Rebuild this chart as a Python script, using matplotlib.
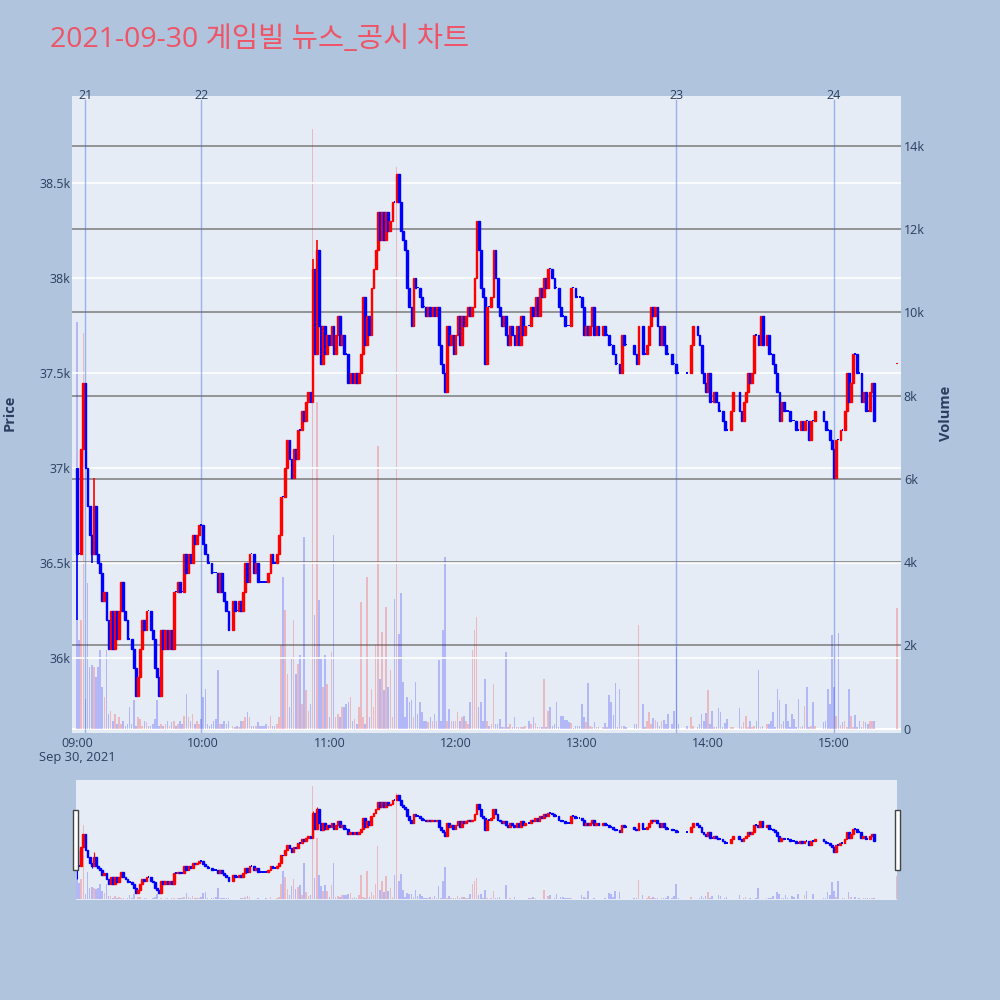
import matplotlib
matplotlib.use('Agg')
import matplotlib.pyplot as plt
from matplotlib.patches import Rectangle

plt.rcParams['font.family'] = ['Open Sans', 'Noto Sans CJK KR', 'DejaVu Sans']

N = None
title = '2021-09-30 게임빌 뉴스_공시 차트'
first_open = 37000

# 1-minute closes, minute 0 = 09:00 (None = no trade)
closes = [
    36550, 36550, 37100, 37450, 37000, 36800, 36650, 36550, 36800, 36550,
    36500, 36450, 36300, 36350, 36200, 36050, 36250, 36050, 36250, 36100,
    36250, 36400, 36250, 36200, 36100, 36100, 36050, 35950, 35800, 35900,
    36050, 36200, 36150, 36250, 36250, 36150, 36100, 35950, 35900, 35800,
    36150, 36050, 36150, 36050, 36150, 36050, 36350, 36350, 36400, 36350,
    36350, 36550, 36450, 36550, 36500, 36650, 36600, 36650, 36700, 36700,
    36600, 36550, 36500, 36500, 36450, 36450, 36450, 36350, 36450, 36350,
    36300, 36250, 36150, N, 36300, 36250, 36250, 36300, 36250, 36350,
    36500, 36400, 36550, 36550, 36450, 36500, 36400, 36400, 36400, 36400,
    36400, 36450, 36550, 36500, 36500, 36550, 36650, 36850, 36850, 37000,
    37150, 37050, 36950, 37100, 37050, 37200, 37200, 37300, 37250, 37350,
    37400, 37350, 38050, 37600, 38150, 37750, 37550, 37750, 37600, 37700,
    37650, 37750, 37600, 37700, 37800, 37650, 37700, 37600, 37600, 37450,
    37500, 37450, 37500, 37450, 37500, 37600, 37900, 37650, 37800, 37700,
    37950, 38050, 38150, 38350, 38200, 38350, 38200, 38350, 38250, 38300,
    38400, 38400, 38550, 38400, 38250, 38200, 38150, 37950, 37850, 37750,
    38000, 37950, 37950, 37900, 37850, 37850, 37800, 37850, 37800, 37850,
    37800, 37850, 37650, 37550, 37500, 37400, 37750, 37650, 37700, 37600,
    37700, 37800, 37650, 37800, 37750, 37800, 37850, 37800, 37850, 38000,
    38300, 38150, 37950, 37900, 37550, 37850, 37850, 37900, 38150, 38000,
    37850, 37800, 37750, 37800, 37700, 37650, 37750, 37700, 37650, 37750,
    37650, 37800, 37700, 37750, N, 37750, 37850, 37800, 37900, 37800,
    37950, 37900, 38000, 37950, 38050, 38050, 38000, 37950, 37950, 37850,
    37800, 37800, 37750, 37750, 37750, 37950, 37950, 37900, 37900, 37900,
    37850, 37700, 37750, 37700, 37750, 37850, 37700, 37750, 37700, N,
    37750, 37700, 37700, 37650, 37650, 37600, 37550, 37550, 37500, 37700,
    37650, 37650, N, N, N, 37600, 37550, 37750, N, 37600,
    37600, 37650, 37750, 37850, 37800, 37850, 37750, 37650, 37750, 37650,
    37600, 37600, N, 37550, 37550, 37500, 37500, N, N, N,
    37500, N, 37650, 37750, N, 37700, 37650, 37500, 37450, 37400,
    37500, 37350, 37350, 37400, 37350, 37300, 37300, 37250, 37200, 37200,
    N, 37300, 37400, N, N, 37300, 37250, 37350, 37400, 37500,
    37450, 37500, 37700, 37700, 37650, 37800, 37650, N, 37700, 37600,
    37600, 37550, 37500, 37400, 37250, 37350, 37300, 37300, 37300, 37250,
    37250, 37250, 37200, 37200, 37250, 37200, 37250, 37250, 37150, 37250,
    37250, 37300, N, N, N, 37250, 37200, 37200, 37150, 37100,
    36950, 37150, 37150, 37200, 37200, 37300, 37500, 37350, 37450, 37600,
    37600, 37500, 37500, 37350, 37400, 37300, 37300, 37400, 37450, 37250,
]

volumes = [
    9760, 2120, 2600, 9500, 700, 3490, 1480, 1520, 1480, 1240,
    1480, 1880, 1000, 760, 1880, 350, 430, 190, 350, 110,
    270, 110, 190, 70, 110, 510, 110, 680, 70, 270,
    230, 70, 190, 150, 70, 70, 110, 230, 680, 70,
    110, 70, 110, 190, 70, 150, 190, 70, 110, 190,
    110, 310, 840, 270, 190, 350, 110, 190, 110, 230,
    760, 960, 110, 70, 110, 190, 230, 1400, 110, 110,
    190, 110, 190, N, 70, 30, 70, 30, 190, 190,
    270, 390, 270, 70, 70, 70, 150, 70, 70, 70,
    110, 70, 310, 70, 70, 110, 270, 2000, 3650, 2840,
    1320, 510, 1680, 2600, 1320, 1560, 1760, 600, 4610, 920,
    430, 600, 14400, 2720, 7850, 3080, 1680, 1000, 1760, 1080,
    270, 1840, 4650, 270, 350, 270, 510, 510, 600, 640,
    760, 190, 230, 110, 510, 3040, 270, 110, 3650, 270,
    960, 510, 2000, 6800, 1200, 2320, 920, 2920, 1000, 1400,
    270, 3120, 13500, 2280, 3250, 1120, 270, 760, 640, 680,
    270, 1120, 350, 640, 390, 190, 190, 150, 270, 190,
    350, 190, 1640, 190, 2360, 4130, 190, 470, 190, 190,
    190, 390, 190, 270, 310, 190, 110, 640, 1880, 2360,
    2680, 510, 640, 190, 1200, 190, 70, 110, 1080, 100,
    100, 220, 30, 30, 1850, 30, 100, 30, 270, 30,
    30, 30, 30, 50, N, 180, 100, 270, 130, 30,
    30, 30, 1200, 30, 430, 510, 50, 110, 640, 30,
    310, 310, 210, 210, 150, 130, 20, 70, 70, 70,
    600, 270, 150, 1100, 70, 30, 150, 30, 30, N,
    30, 130, 30, 800, 640, 330, 1100, 30, 960, 50,
    50, 30, N, N, N, 100, 100, 2500, N, 600,
    30, 190, 400, 100, 250, 210, 150, 50, 190, 200,
    100, 350, N, 100, 430, 1950, 110, N, N, N,
    70, N, 270, 50, N, 30, 100, 350, 170, 370,
    920, 100, 430, 30, 30, 500, 390, 30, 130, 230,
    N, 30, 30, N, N, 500, 40, 150, 290, 30,
    170, 30, 70, 170, 1400, 30, 50, N, 110, 110,
    190, 390, 30, 960, 680, 100, 190, 600, 190, 30,
    350, 230, 30, 720, 30, 50, 550, 1000, 30, 70,
    640, 70, N, N, N, 150, 170, 960, 600, 2250,
    1000, 290, 2300, 90, 150, 170, 30, 960, 310, 30,
    330, 30, 190, 30, 170, 150, 100, 190, 190, 170,
]

# closing single-price auction (15:30)
auction_minute = 390
auction_price = 37550
auction_volume = 2900

wick_high = {8: 36950, 112: 38100, 114: 38200}
wick_low = {0: 36200, 7: 36500, 348: 37150}

news_minutes = [4, 59, 285, 360]
news_labels = ['21', '22', '23', '24']

hour_ticks = [0, 60, 120, 180, 240, 300, 360]
hour_labels = ['09:00', '10:00', '11:00', '12:00', '13:00', '14:00', '15:00']
date_label = 'Sep 30, 2021'
price_ticks = [36000, 36500, 37000, 37500, 38000, 38500]
price_labels = ['36k', '36.5k', '37k', '37.5k', '38k', '38.5k']
vol_ticks = [0, 2000, 4000, 6000, 8000, 10000, 12000, 14000]
vol_labels = ['0', '2k', '4k', '6k', '8k', '10k', '12k', '14k']

# ---- build OHLC ----
mins, o_, c_, h_, l_, v_ = [], [], [], [], [], []
prev = first_open
for m, (c, v) in enumerate(zip(closes, volumes)):
    if c is None:
        continue
    o = prev
    mins.append(m); o_.append(o); c_.append(c)
    h_.append(max(o, c, wick_high.get(m, 0)))
    l_.append(min(o, c, wick_low.get(m, 10 ** 9)))
    v_.append(v if v is not None else 0)
    prev = c
mins.append(auction_minute); o_.append(auction_price); c_.append(auction_price)
h_.append(auction_price); l_.append(auction_price); v_.append(auction_volume)

RED, BLUE = '#ff0000', '#0000ff'
cols = [RED if c > o else BLUE for o, c in zip(o_, c_)]
vcols = [(1, 0, 0, 0.22) if c > o else (0, 0, 1, 0.22) for o, c in zip(o_, c_)]
cols[-1] = RED
vcols[-1] = (1, 0, 0, 0.22)

BG = '#b0c4de'
PLOT = '#e5ecf6'
TXT = '#2a3f5f'

PMIN, PMAX = 35607, 38958
VMIN, VMAX = -100, 15200


def draw(axp, axv, body_w, lw, doji_h, vol_w, wick_lw):
    axv.bar(mins, v_, width=vol_w, color=vcols, linewidth=0, zorder=2)
    moving = [i for i in range(len(mins)) if c_[i] != o_[i]]
    flat = [i for i in range(len(mins)) if c_[i] == o_[i]]
    axp.bar([mins[i] for i in moving], [abs(c_[i] - o_[i]) for i in moving],
            bottom=[min(o_[i], c_[i]) for i in moving], width=body_w,
            color=[cols[i] for i in moving], edgecolor=[cols[i] for i in moving],
            linewidth=lw, zorder=3)
    axp.bar([mins[i] for i in flat], [doji_h] * len(flat),
            bottom=[c_[i] - doji_h / 2 for i in flat], width=body_w,
            color=[cols[i] for i in flat], linewidth=0, zorder=3)
    for m, hi, lo, o, c, col in zip(mins, h_, l_, o_, c_, cols):
        if hi > max(o, c) or lo < min(o, c):
            axp.vlines(m, lo, hi, color=col, linewidth=wick_lw, zorder=3)


fig = plt.figure(figsize=(10, 10), dpi=100, facecolor=BG)

# ---- main chart ----
ax = fig.add_axes([0.072, 1 - 0.7327, 0.829, 0.7327 - 0.096])
ax2 = ax.twinx()
ax.set_zorder(ax2.get_zorder() + 1)
ax.patch.set_visible(False)
ax2.patch.set_visible(True)
ax2.set_facecolor(PLOT)

XL, XR = -2.38, 391.8
ax.set_xlim(XL, XR)
ax.set_ylim(PMIN, PMAX)
ax2.set_ylim(VMIN, VMAX)

draw(ax, ax2, body_w=0.85, lw=1.0, doji_h=9, vol_w=0.75, wick_lw=1.2)

for m, lab in zip(news_minutes, news_labels):
    ax.axvline(m, ymin=0, ymax=0.993, color=(0.25, 0.41, 0.88, 0.45), linewidth=1.0, zorder=2)
    ax.text(m, PMAX, lab, ha='center', va='center', fontsize=9, color=TXT, zorder=5)

ax.set_yticks(price_ticks)
ax.set_yticklabels(price_labels)
ax2.set_yticks(vol_ticks)
ax2.set_yticklabels(vol_labels)
ax.set_xticks(hour_ticks)
ax.set_xticklabels(hour_labels)
ax.grid(axis='y', color='white', linewidth=1.2, zorder=0)
ax.set_axisbelow(True)
ax2.grid(axis='y', color='#8c8c8c', linewidth=1.3, zorder=0)
ax2.set_axisbelow(True)
ax2.axhline(0, color='white', linewidth=1.5, zorder=1)
for a in (ax, ax2):
    for s in a.spines.values():
        s.set_visible(False)
ax.tick_params(axis='y', length=0, labelsize=9, colors=TXT, pad=1)
ax.tick_params(axis='x', length=0, labelsize=9, colors=TXT, pad=3)
ax2.tick_params(axis='y', length=0, labelsize=9, colors=TXT, pad=2)

fig.text(0.077, 1 - 0.757, date_label, ha='center', va='center', fontsize=9.3, color=TXT)
fig.text(0.010, 1 - 0.413, 'Price', rotation=90, ha='center', va='center',
         fontsize=10.5, color=TXT, fontweight='bold')
fig.text(0.946, 1 - 0.413, 'Volume', rotation=90, ha='center', va='center',
         fontsize=10.5, color=TXT, fontweight='bold')
fig.text(0.050, 1 - 0.040, title, ha='left', va='center', fontsize=20.5, color='#ef5466')

# ---- range slider ----
rs = fig.add_axes([0.076, 0.100, 0.821, 0.120])
rs2 = rs.twinx()
rs.set_zorder(rs2.get_zorder() + 1)
rs.patch.set_visible(False)
rs2.patch.set_visible(True)
rs2.set_facecolor(PLOT)
rs.set_xlim(-0.5, 390.0)
rs.set_ylim(PMIN, PMAX)
rs2.set_ylim(VMIN, VMAX)
draw(rs, rs2, body_w=0.85, lw=1.0, doji_h=55, vol_w=0.75, wick_lw=0.8)
for a in (rs, rs2):
    a.set_xticks([]); a.set_yticks([])
    for s in a.spines.values():
        s.set_visible(False)

for xpx in (73, 895):
    fig.patches.append(Rectangle((xpx / 1000, 1 - 0.870), 0.005, 0.060,
                                 transform=fig.transFigure, facecolor='white',
                                 edgecolor='#444444', linewidth=1.0, zorder=10))

fig.savefig('out.png', dpi=100, facecolor=BG)
